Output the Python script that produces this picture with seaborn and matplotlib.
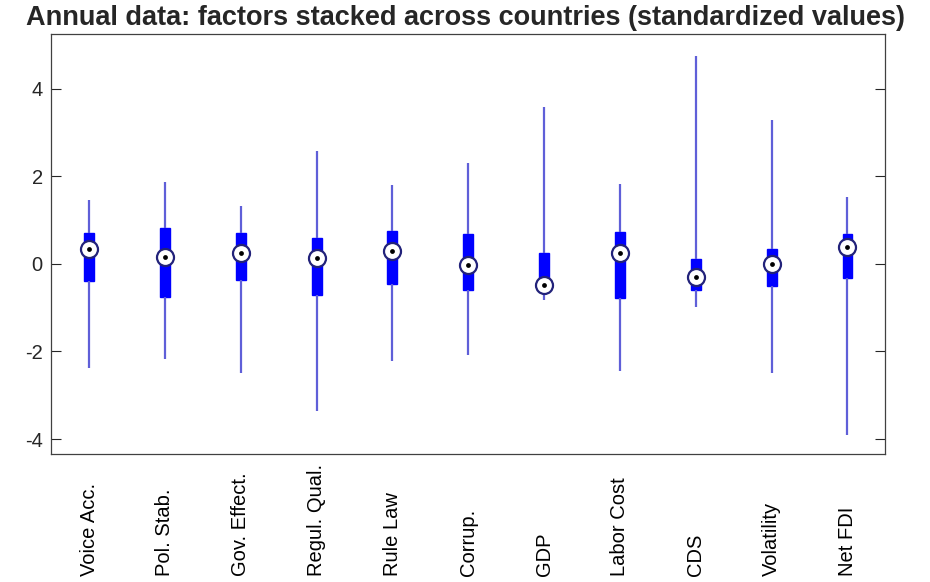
import numpy as np
import pandas as pd
import seaborn as sns
from matplotlib import pyplot as plt

# five-number summaries (standardized values)
factors = ["Voice Acc.", "Pol. Stab.", "Gov. Effect.", "Regul. Qual.", "Rule Law",
           "Corrup.", "GDP", "Labor Cost", "CDS", "Volatility", "Net FDI"]
lo = [-2.38, -2.18, -2.50, -3.35, -2.22, -2.08, -0.82, -2.45, -0.98, -2.48, -3.90]
q1 = [-0.40, -0.75, -0.37, -0.72, -0.45, -0.60, -0.62, -0.78, -0.60, -0.50, -0.32]
med = [0.33, 0.15, 0.25, 0.13, 0.30, -0.03, -0.48, 0.24, -0.30, 0.00, 0.38]
q3 = [0.70, 0.82, 0.70, 0.60, 0.75, 0.68, 0.25, 0.72, 0.12, 0.35, 0.68]
hi = [1.45, 1.88, 1.32, 2.58, 1.80, 2.30, 3.58, 1.82, 4.75, 3.28, 1.52]

rows = []
for i, f in enumerate(factors):
    for v in (lo[i], q1[i], med[i], q3[i], hi[i]):
        rows.append((f, v))
df = pd.DataFrame(rows, columns=["factor", "value"])

sns.set_style("white")
plt.rcParams["font.family"] = ["Liberation Sans", "DejaVu Sans"]
plt.rcParams["axes.unicode_minus"] = False

fig = plt.figure(figsize=(9.3, 5.82), dpi=100)
ax = fig.add_axes([0.055, 0.22, 0.897, 0.7216])

sns.boxplot(data=df, x="factor", y="value", order=factors, whis=np.inf,
            width=0.13, showcaps=False, saturation=1, color="#0000ff",
            linecolor="#0000ff", linewidth=1, fliersize=0,
            whiskerprops=dict(color="#5f5fd8", linewidth=1.6),
            medianprops=dict(visible=False),
            boxprops=dict(facecolor="#0000ff", edgecolor="#0000ff"), ax=ax)

sns.scatterplot(x=factors, y=med, marker="o", s=150, color="white",
                edgecolor="#22227a", linewidth=1.6, zorder=5, ax=ax)
sns.scatterplot(x=factors, y=med, marker="o", s=12, color="black",
                edgecolor="black", linewidth=0, zorder=6, ax=ax)

ax.set_xlim(-0.5, 10.5)
ax.set_ylim(-4.34, 5.25)
ax.set_yticks([-4, -2, 0, 2, 4])
ax.set_xlabel("")
ax.set_ylabel("")
ax.tick_params(axis="y", direction="in", left=True, right=True, length=7, width=0.8,
               labelsize=14.5, colors="#262626", pad=6)
ax.tick_params(axis="x", length=0, labelsize=14.5, labelcolor="black", pad=88)
for lbl in ax.get_xticklabels():
    lbl.set_rotation(90)
    lbl.set_va("bottom")
for s in ax.spines.values():
    s.set_visible(True)
    s.set_color("#404040")
    s.set_linewidth(0.9)

fig.text(0.5, 0.969, "Annual data: factors stacked across countries (standardized values)",
         ha="center", va="center", fontsize=19.5, fontweight="bold")

fig.savefig("out.png", dpi=100)
